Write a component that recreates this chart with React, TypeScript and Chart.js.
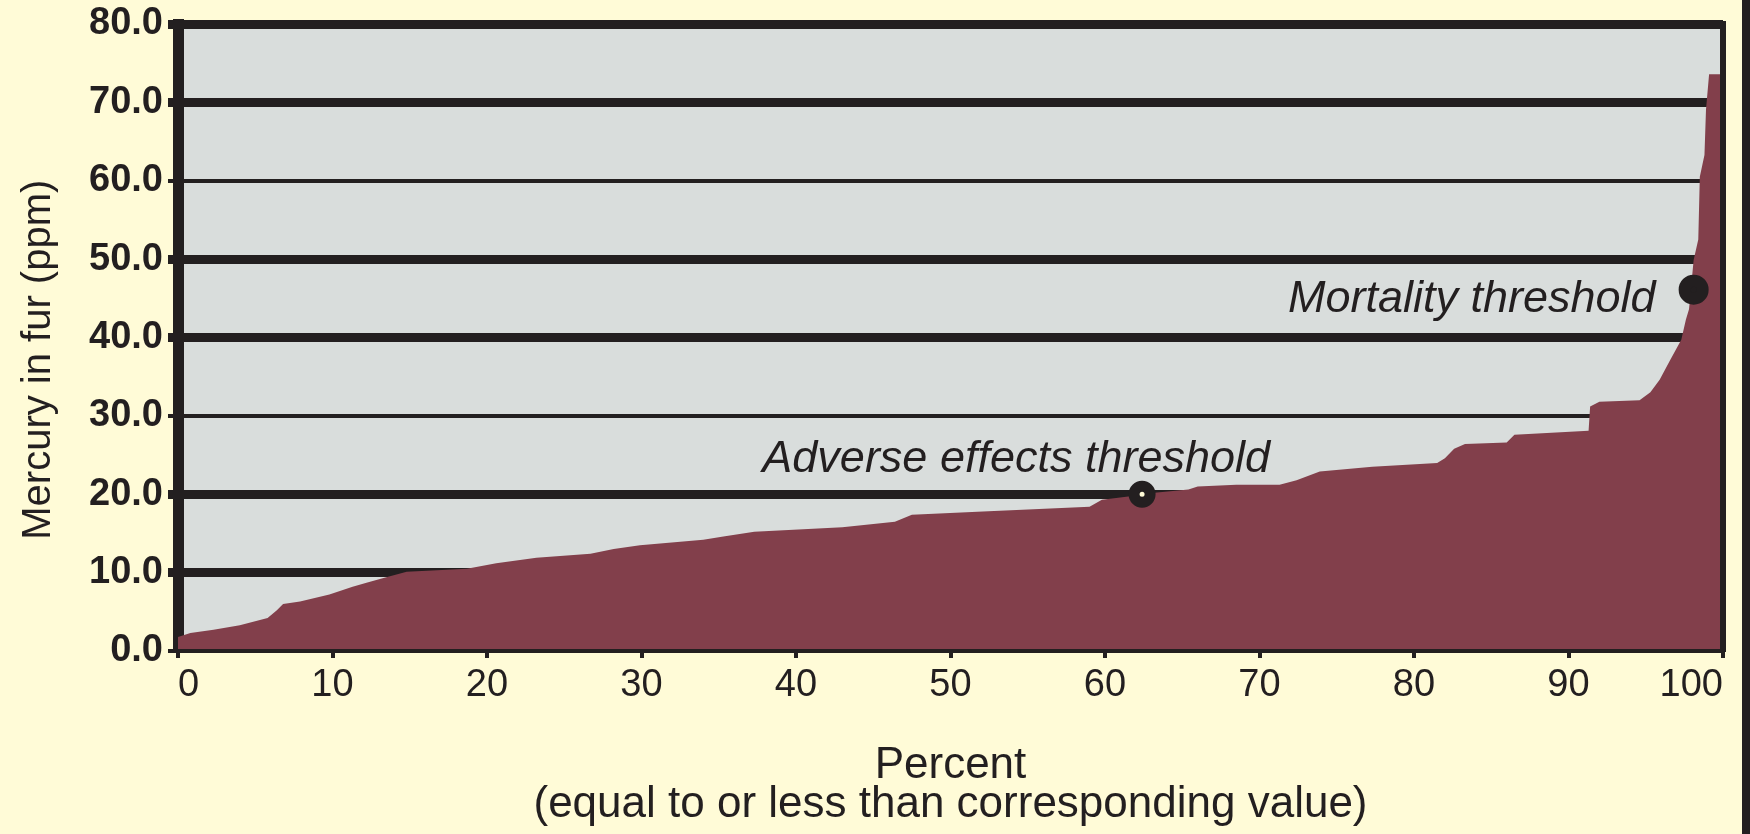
import React, { useEffect, useRef } from 'react';
import { Chart, registerables } from 'chart.js';

Chart.register(...registerables);

// ---- data ----
const percentValues = [0, 0.8, 2.3, 4.0, 5.8, 6.4, 6.8, 7.9, 9.8, 11.3, 12.2, 13.3, 14.8, 18.7, 20.6, 23.2, 26.7, 28.2, 29.9, 34.0, 35.3, 37.3, 43.0, 46.4, 47.5, 52.1, 59.0, 59.8, 61.5, 63.2, 65.4, 66.0, 68.5, 71.3, 72.4, 73.9, 77.3, 81.5, 82.0, 82.6, 83.3, 86.0, 86.5, 91.3, 91.4, 92.0, 94.6, 95.3, 95.9, 96.6, 97.3, 97.6, 97.8, 98.1, 98.4, 98.5, 98.8, 98.9, 99.1, 100];
const mercuryValues = [1.8, 2.3, 2.7, 3.3, 4.2, 5.2, 6.0, 6.3, 7.2, 8.2, 8.7, 9.3, 10.1, 10.5, 11.2, 11.9, 12.4, 13.0, 13.5, 14.2, 14.6, 15.2, 15.8, 16.5, 17.4, 17.8, 18.4, 19.3, 19.7, 20.2, 20.6, 21.0, 21.2, 21.2, 21.8, 22.9, 23.5, 24.0, 24.6, 25.8, 26.4, 26.6, 27.6, 28.1, 31.2, 31.8, 32.0, 33.0, 34.6, 37.2, 39.7, 42.3, 43.6, 49.9, 52.5, 60.5, 63.3, 69.1, 73.6, 73.6];

const thresholdNames = ['Adverse effects threshold', 'Mortality threshold'];
const thresholdPercent = [62.4, 98.1];
const thresholdMercury = [20.0, 46.1];

const xTicks = [0, 10, 20, 30, 40, 50, 60, 70, 80, 90, 100];
const yTicks = [0, 10, 20, 30, 40, 50, 60, 70, 80];
const yAxisTitle = 'Mercury in fur (ppm)';
const xAxisTitle = ['Percent', '(equal to or less than corresponding value)'];

// ---- styles ----
const DARK = '#231F20';
const PAGE_BG = '#FFFBD7';
const PLOT_BG = '#D9DDDC';
const FILL = '#823F4B';
const FONT = '"Liberation Sans", Arial, sans-serif';
const thinGridValues = [30, 60];
const labelOffsets = [
  { dx: 128, dy: -22 },
  { dx: -38, dy: 22 },
];

const plotBackground = {
  id: 'plotBackground',
  beforeDraw(chart: any) {
    const { ctx, chartArea: a } = chart;
    ctx.save();
    ctx.fillStyle = PLOT_BG;
    ctx.fillRect(a.left, a.top, a.right - a.left, a.bottom - a.top);
    ctx.restore();
  },
};

const thresholdLabels = {
  id: 'thresholdLabels',
  afterDatasetsDraw(chart: any) {
    const { ctx } = chart;
    const meta = chart.getDatasetMeta(1);
    ctx.save();
    ctx.font = `italic 45px ${FONT}`;
    ctx.fillStyle = DARK;
    ctx.textAlign = 'right';
    ctx.textBaseline = 'alphabetic';
    meta.data.forEach((pt: any, i: number) => {
      const off = labelOffsets[i];
      ctx.fillText(thresholdNames[i], pt.x + off.dx, pt.y + off.dy);
    });
    ctx.restore();
  },
};

export default function App() {
  const canvasRef = useRef<HTMLCanvasElement | null>(null);

  useEffect(() => {
    const canvas = canvasRef.current;
    if (!canvas) return;
    const chart = new Chart(canvas, {
      type: 'line',
      data: {
        datasets: [
          {
            label: 'Mercury',
            data: percentValues.map((p, i) => ({ x: p, y: mercuryValues[i] })),
            fill: 'origin',
            backgroundColor: FILL,
            borderColor: 'rgba(0,0,0,0)',
            borderWidth: 0,
            pointRadius: 0,
            tension: 0,
            order: 2,
          },
          {
            label: 'Thresholds',
            data: thresholdPercent.map((p, i) => ({ x: p, y: thresholdMercury[i] })),
            showLine: false,
            pointStyle: 'circle',
            pointRadius: [8, 9],
            pointBorderWidth: [11, 12],
            pointBackgroundColor: [PAGE_BG, DARK],
            pointBorderColor: DARK,
            clip: false,
            order: 1,
          },
        ],
      },
      options: {
        animation: false,
        responsive: false,
        maintainAspectRatio: false,
        devicePixelRatio: 1,
        layout: { padding: { top: 24, left: 0, right: 27, bottom: 0 } },
        plugins: { legend: { display: false }, tooltip: { enabled: false } },
        scales: {
          x: {
            type: 'linear',
            min: 0,
            max: 100,
            afterBuildTicks: (scale: any) => {
              scale.ticks = xTicks.map((v) => ({ value: v }));
            },
            afterFit: (scale: any) => {
              scale.height = 183;
              scale.paddingLeft = 0;
              scale.paddingRight = 0;
            },
            grid: {
              display: true,
              drawOnChartArea: false,
              drawTicks: true,
              tickLength: 7,
              lineWidth: 4,
              color: DARK,
            },
            border: { display: true, color: DARK, width: 4, z: 1 },
            ticks: {
              align: 'inner',
              padding: 5,
              color: DARK,
              font: { family: FONT, size: 38 },
              callback: (v: any) => String(v),
            },
            title: {
              display: true,
              text: xAxisTitle,
              color: DARK,
              font: { family: FONT, size: 44, lineHeight: '39px' },
              padding: { top: 0, bottom: 10 },
            },
          },
          y: {
            type: 'linear',
            min: 0,
            max: 80,
            afterBuildTicks: (scale: any) => {
              scale.ticks = yTicks.map((v) => ({ value: v }));
            },
            afterFit: (scale: any) => {
              scale.width = 178;
              scale.paddingTop = 0;
              scale.paddingBottom = 0;
            },
            grid: {
              display: true,
              drawOnChartArea: true,
              drawTicks: true,
              tickLength: 10,
              color: DARK,
              lineWidth: (ctx: any) => {
                const v = ctx.tick ? ctx.tick.value : 0;
                if (v === 0) return 4;
                return thinGridValues.includes(v) ? 4 : 9;
              },
            },
            border: { display: true, color: DARK, width: 11 },
            ticks: {
              padding: 5,
              color: DARK,
              font: { family: FONT, size: 38, weight: 'bold' },
              callback: (v: any) => Number(v).toFixed(1),
            },
            title: {
              display: true,
              text: yAxisTitle + '    ',
              color: DARK,
              font: { family: FONT, size: 40, lineHeight: 1.2 },
              padding: { top: 15, bottom: 0 },
            },
          },
          yRight: {
            type: 'linear',
            position: 'right',
            display: true,
            min: 0,
            max: 80,
            afterFit: (scale: any) => {
              scale.width = 0;
              scale.paddingTop = 0;
              scale.paddingBottom = 0;
            },
            grid: { display: false },
            ticks: { display: false },
            border: { display: true, color: DARK, width: 6, z: 1 },
          },
        },
      } as any,
      plugins: [plotBackground, thresholdLabels],
    });
    return () => chart.destroy();
  }, []);

  return (
    <div
      style={{
        position: 'fixed',
        left: 0,
        top: 0,
        width: 1750,
        height: 834,
        background: PAGE_BG,
        overflow: 'hidden',
      }}
    >
      <canvas ref={canvasRef} width={1750} height={834} style={{ display: 'block' }} />
      <div
        style={{
          position: 'absolute',
          left: 1742,
          top: 0,
          width: 8,
          height: 834,
          background: DARK,
        }}
      />
    </div>
  );
}
